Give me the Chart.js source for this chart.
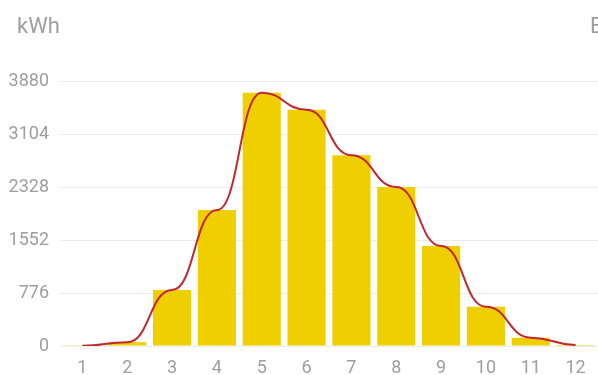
<!DOCTYPE html>
<html>
<head>
<meta charset="utf-8">
<script src="https://cdn.jsdelivr.net/npm/chart.js@4/dist/chart.umd.min.js"></script>
<style>
html,body{margin:0;padding:0;background:#fff;}
canvas{display:block;}
</style>
</head>
<body>
<canvas id="c" width="598" height="375"></canvas>
<script>
const categories = ['1','2','3','4','5','6','7','8','9','10','11','12'];
const energyValues = [3, 54, 820, 1991, 3709, 3460, 2792, 2328, 1464, 575, 122, 15];
const yTicks = [0, 776, 1552, 2328, 3104, 3880];
const leftUnit = 'kWh';
const rightUnit = 'EUR';

const GREY = '#9e9e9e';

const horizontalBezier = {
  id: 'horizontalBezier',
  beforeDatasetDraw(chart, args) {
    const meta = args.meta;
    if (meta.type !== 'line' || !meta.dataset) return;
    const line = meta.dataset;
    line.updateControlPoints(chart.chartArea, 'x');
    const pts = line.points;
    for (let i = 0; i < pts.length; i++) {
      const p = pts[i];
      const prev = pts[i - 1], next = pts[i + 1];
      const dPrev = prev ? (p.x - prev.x) / 2 : 0;
      const dNext = next ? (next.x - p.x) / 2 : 0;
      p.cp1x = p.x - dPrev; p.cp1y = p.y;
      p.cp2x = p.x + dNext; p.cp2y = p.y;
    }
    line._path = undefined;
  }
};

const unitLabels = {
  id: 'unitLabels',
  afterDraw(chart) {
    const ctx = chart.ctx;
    ctx.save();
    ctx.fillStyle = GREY;
    ctx.font = '22px Roboto';
    ctx.textBaseline = 'middle';
    ctx.textAlign = 'left';
    ctx.fillText(leftUnit, 17, 27);
    ctx.fillText(rightUnit, 590, 27);
    ctx.restore();
  }
};

new Chart(document.getElementById('c'), {
  type: 'bar',
  data: {
    labels: categories,
    datasets: [
      {
        type: 'line',
        data: energyValues,
        borderColor: '#c2272d',
        borderWidth: 2,
        pointRadius: 0,
        tension: 0.4,
        fill: false,
        order: 0
      },
      {
        type: 'bar',
        data: energyValues,
        backgroundColor: '#efcf00',
        borderWidth: 0,
        barPercentage: 0.85,
        categoryPercentage: 1.0,
        order: 1
      }
    ]
  },
  options: {
    responsive: false,
    animation: false,
    devicePixelRatio: 1,
    layout: { padding: { top: 81, right: 0, left: 0, bottom: 0 } },
    plugins: { legend: { display: false }, tooltip: { enabled: false }, title: { display: false } },
    scales: {
      x: {
        grid: { display: false },
        border: { display: false },
        ticks: { color: GREY, font: { family: 'Roboto', size: 18 }, padding: 4, maxRotation: 0, autoSkip: false },
        afterFit(scale) { scale.height = 29; }
      },
      y: {
        min: 0,
        max: yTicks[yTicks.length - 1],
        afterBuildTicks(scale) { scale.ticks = yTicks.map(v => ({ value: v })); },
        grid: { color: '#ececec', lineWidth: 1, drawTicks: false },
        border: { display: false },
        ticks: { color: GREY, font: { family: 'Roboto', size: 18 }, padding: 11, callback: (v) => String(v) },
        afterFit(scale) { scale.width = 60; }
      }
    }
  },
  plugins: [horizontalBezier, unitLabels]
});
</script>
</body>
</html>
